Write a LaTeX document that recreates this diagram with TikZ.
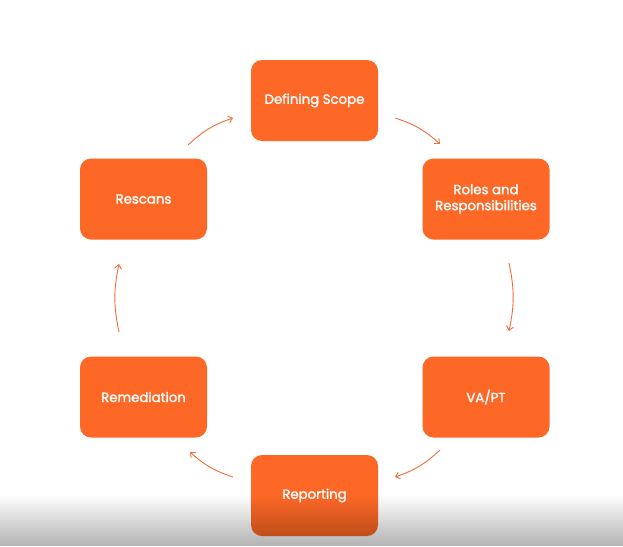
\documentclass[tikz,border=0pt]{standalone}
\usepackage{fontspec}
\setmainfont{Poppins}[FakeBold=1.6]
\usetikzlibrary{arrows.meta,fadings}
\definecolor{boxorange}{RGB}{253,104,38}
\definecolor{arrorange}{RGB}{240,110,60}
\begin{document}
\begin{tikzpicture}[x=1pt,y=-1pt,
  stagebox/.style={fill=boxorange, rounded corners=11pt, minimum width=127pt, minimum height=81pt,
     inner sep=0pt, text=white, align=center, font=\fontsize{13.3}{16}\selectfont},
  flow/.style={draw=arrorange, line width=0.9pt, -{Straight Barb[length=4pt,width=7pt]}, bend left=12}]
\useasboundingbox (0,0) rectangle (623,546);
\fill[white] (0,0) rectangle (623,546);
\node[stagebox] (scope) at (314.5,100.5) {Defining Scope};
\node[stagebox] (roles) at (486,199) {Roles and\\Responsibilities};
\node[stagebox] (vapt) at (486,397) {VA/PT};
\node[stagebox] (report) at (314.5,495.5) {Reporting};
\node[stagebox] (remed) at (143.5,397) {Remediation};
\node[stagebox] (rescan) at (143.5,199) {Rescans};
\coordinate (a1s) at (395,118); \coordinate (a1e) at (440,144);
\coordinate (a2s) at (509,263); \coordinate (a2e) at (509,331);
\coordinate (a3s) at (440,450); \coordinate (a3e) at (395,477);
\coordinate (a4s) at (233,477); \coordinate (a4e) at (190,452);
\coordinate (a5s) at (119,332); \coordinate (a5e) at (119,264);
\coordinate (a6s) at (188,145); \coordinate (a6e) at (233,118);
\draw[flow] (a1s) to (a1e);
\draw[flow] (a2s) to (a2e);
\draw[flow] (a3s) to (a3e);
\draw[flow] (a4s) to (a4e);
\draw[flow] (a5s) to (a5e);
\draw[flow] (a6s) to (a6e);
\fill[black, path fading=north, opacity=0.3] (0,495) rectangle (623,546);
\end{tikzpicture}
\end{document}
